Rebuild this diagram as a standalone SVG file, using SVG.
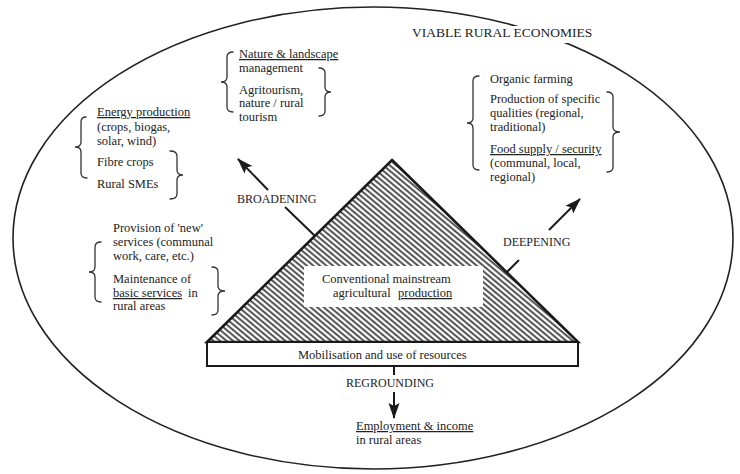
<svg xmlns="http://www.w3.org/2000/svg" width="740" height="474" viewBox="0 0 740 474">
<style>
  text { font-family: "Liberation Serif", "Times New Roman", serif; font-size: 12.5px; fill: #222; }
  .u { text-decoration: underline; }
  .cap { font-size: 12px; }
  .title { font-size: 13.5px; }
  .brace { fill: none; stroke: #333; stroke-width: 1.3; stroke-linecap: round; }
  .conn { stroke: #1a1a1a; stroke-width: 2; fill: none; }
</style>
<defs>
  <pattern id="hatch" patternUnits="userSpaceOnUse" width="4.2" height="4.2" patternTransform="rotate(40)">
    <rect width="4.2" height="4.2" fill="#fff"/>
    <line x1="0" y1="2.1" x2="4.2" y2="2.1" stroke="#333" stroke-width="1.7"/>
  </pattern>
  <marker id="ah" markerUnits="userSpaceOnUse" markerWidth="16" markerHeight="12" viewBox="0 0 16 12" refX="15" refY="6" orient="auto">
    <path d="M0,0.5 L16,6 L0,11.5 L3,6 z" fill="#1a1a1a"/>
  </marker>
</defs>
<rect width="740" height="474" fill="#fff"/>

<g id="boundary">
  <ellipse cx="373" cy="238" rx="360" ry="231" fill="none" stroke="#222" stroke-width="1.6"/>
  <rect x="410" y="26" width="192" height="17" fill="#fff"/>
  <text class="title" x="412" y="37">VIABLE RURAL ECONOMIES</text>
</g>

<g id="triangle">
  <polygon points="392,160 578,342 207,342" fill="url(#hatch)" stroke="#1a1a1a" stroke-width="2.6" stroke-linejoin="miter"/>
  <rect x="304" y="266" width="179" height="41" fill="#fff"/>
  <text x="322" y="283">Conventional mainstream</text>
  <text x="333" y="297">agricultural <tspan x="398" class="u">production</tspan></text>
</g>

<g id="resources">
  <rect x="207" y="342" width="371" height="24" fill="#fff" stroke="#1a1a1a" stroke-width="2"/>
  <text x="298" y="359">Mobilisation and use of resources</text>
</g>

<g id="connectors">
  <line class="conn" x1="315" y1="236" x2="285" y2="207"/>
  <line class="conn" x1="268" y1="190" x2="238" y2="159" marker-end="url(#ah)"/>
  <line class="conn" x1="507" y1="272" x2="519" y2="260"/>
  <line class="conn" x1="549" y1="230" x2="580" y2="199" marker-end="url(#ah)"/>
  <line class="conn" x1="394" y1="366" x2="394" y2="375"/>
  <line class="conn" x1="394" y1="392" x2="394" y2="418" marker-end="url(#ah)"/>
  <text class="cap" x="237" y="203">BROADENING</text>
  <text class="cap" x="503" y="246">DEEPENING</text>
  <text class="cap" x="346" y="387">REGROUNDING</text>
</g>

<g id="broadening-left">
  <path class="brace" d="M86,117 Q81,117 81,122 L81,142 Q81,147 75,147 Q81,147 81,152 L81,173 Q81,178 87,178"/>
  <path class="brace" d="M170,151 Q177,151 177,156 L177,170 Q177,175 183,175 Q177,175 177,180 L177,194 Q177,199 170,199"/>
  <text class="u" x="97" y="116">Energy production</text>
  <text x="97" y="131">(crops, biogas,</text>
  <text x="97" y="145">solar, wind)</text>
  <text x="97" y="166">Fibre crops</text>
  <text x="97" y="188">Rural SMEs</text>
</g>

<g id="broadening-top">
  <path class="brace" d="M233,52 Q227,52 227,57 L227,77 Q227,82 221,82 Q227,82 227,87 L227,107 Q227,112 233,112"/>
  <path class="brace" d="M319,68 Q325,68 325,73 L325,87 Q325,92 331,92 Q325,92 325,97 L325,111 Q325,116 319,116"/>
  <text class="u" x="239" y="58">Nature &amp; landscape</text>
  <text x="239" y="72">management</text>
  <text x="239" y="94">Agritourism,</text>
  <text x="239" y="107">nature / rural</text>
  <text x="239" y="121">tourism</text>
</g>

<g id="broadening-services">
  <path class="brace" d="M101,242 Q95,242 95,247 L95,267 Q95,272 89,272 Q95,272 95,277 L95,297 Q95,302 101,302"/>
  <path class="brace" d="M212,267 Q218,267 218,272 L218,286 Q218,291 225,291 Q218,291 218,296 L218,310 Q218,315 212,315"/>
  <text x="113" y="232">Provision of 'new'</text>
  <text x="113" y="246">services (communal</text>
  <text x="113" y="260">work, care, etc.)</text>
  <text x="113" y="283">Maintenance of</text>
  <text x="113" y="297"><tspan class="u">basic services</tspan><tspan dx="6">in</tspan></text>
  <text x="113" y="310">rural areas</text>
</g>

<g id="deepening">
  <path class="brace" d="M479,76 Q473,76 473,81 L473,118 Q473,123 467,123 Q473,123 473,128 L473,165 Q473,170 479,170"/>
  <path class="brace" d="M607,92 Q613,92 613,97 L613,127 Q613,132 620,132 Q613,132 613,137 L613,167 Q613,172 607,172"/>
  <text x="490" y="83">Organic farming</text>
  <text x="490" y="103">Production of specific</text>
  <text x="490" y="117">qualities (regional,</text>
  <text x="490" y="131">traditional)</text>
  <text class="u" x="490" y="153">Food supply / security</text>
  <text x="490" y="167">(communal, local,</text>
  <text x="490" y="181">regional)</text>
</g>

<g id="regrounding">
  <text class="u" x="356" y="430">Employment &amp; income</text>
  <text x="356" y="444">in rural areas</text>
</g>
</svg>
